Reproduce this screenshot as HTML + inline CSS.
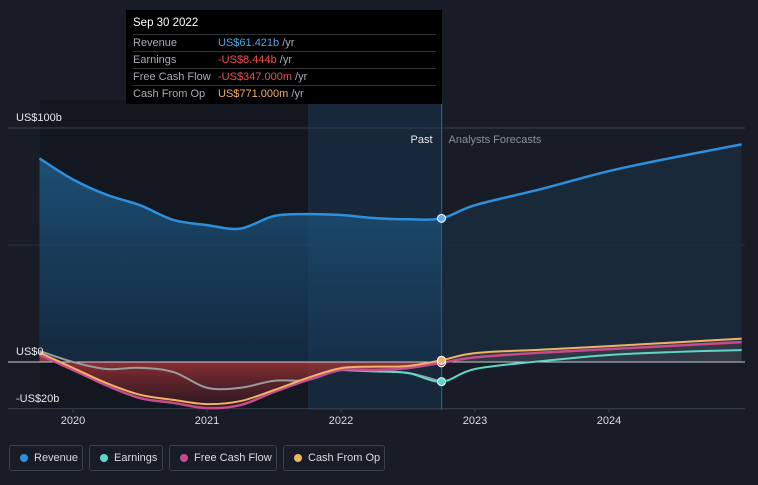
<!DOCTYPE html>
<html><head><meta charset="utf-8"><style>
body{margin:0;background:#151a24;font-family:"Liberation Sans",sans-serif;}
#c{position:relative;width:758px;height:485px;overflow:hidden;background:#171c27;}
.lg{position:absolute;top:445px;height:26px;border:1px solid #3a404c;border-radius:3px;color:#d8dce2;font-size:11px;line-height:24px;padding:0 0 0 24px;box-sizing:border-box;white-space:nowrap}
.lg i{position:absolute;left:10px;top:8px;width:8px;height:8px;border-radius:50%}
</style></head><body>
<div id="c">
<svg id="s" width="758" height="485" style="position:absolute;left:0;top:0">
<defs>
<linearGradient id="rg" x1="0" y1="0" x2="0" y2="1"><stop offset="0" stop-color="#1f5a85" stop-opacity="0.85"/><stop offset="1" stop-color="#153553" stop-opacity="0.6"/></linearGradient>
<linearGradient id="ng" x1="0" y1="0" x2="0" y2="1"><stop offset="0" stop-color="#b5383d" stop-opacity="0.85"/><stop offset="1" stop-color="#5a1c22" stop-opacity="0.4"/></linearGradient>
</defs>
<rect x="40" y="100" width="268" height="310" fill="#121720"/>
<rect x="308" y="100" width="135" height="310" fill="#17283a"/>
<g id="g"></g>
</svg>
<div style="position:absolute;left:126px;top:10px;width:316px;height:94px;background:#000;color:#fff;font-size:11px">
<div style="position:absolute;left:7px;top:7px;font-size:11.5px">Sep 30 2022</div>
<div style="position:absolute;left:7px;top:24px;width:303px;border-top:1px solid #333;line-height:16px;color:#aab">
<div style="border-bottom:1px solid #333">Revenue<span style="position:absolute;left:85px;color:#4aa8e8">US$61.421b <span style="color:#aab">/yr</span></span></div>
<div style="border-bottom:1px solid #333">Earnings<span style="position:absolute;left:85px;color:#f04c52">-US$8.444b <span style="color:#aab">/yr</span></span></div>
<div style="border-bottom:1px solid #333">Free Cash Flow<span style="position:absolute;left:85px;color:#f04c52">-US$347.000m <span style="color:#aab">/yr</span></span></div>
<div>Cash From Op<span style="position:absolute;left:85px;color:#f3b160">US$771.000m <span style="color:#aab">/yr</span></span></div>
</div></div>
<div class="lg" style="left:9px;width:74px"><i style="background:#2e8fdc"></i>Revenue</div>
<div class="lg" style="left:89px;width:74px"><i style="background:#5fd7c8"></i>Earnings</div>
<div class="lg" style="left:169px;width:108px"><i style="background:#c64b8c"></i>Free Cash Flow</div>
<div class="lg" style="left:283px;width:102px"><i style="background:#f0b264"></i>Cash From Op</div>
</div>
<script>
const years=[2019.75,2020,2020.25,2020.5,2020.75,2021,2021.25,2021.5,2021.75,2022,2022.25,2022.5,2022.75,2023,2023.5,2024,2024.5,2024.99];
const revenue=[87,78,71.5,67,60.7,58.5,57,62.4,63.2,62.8,61.5,61,61.4,67,74,81.6,87.6,93];
const earnings=[4.7,0,-3,-2.5,-4.3,-11,-11,-8,-7.7,-3.4,-4,-4.7,-8.4,-3,0.4,3,4.3,5.1];
const fcf=[3,-3.4,-10,-15.4,-17.5,-19.7,-18.4,-12.8,-7.7,-3.4,-3.4,-2.6,-0.35,2,4,5.5,7,8.5];
const cfo=[4,-2.5,-9,-14,-16.2,-18,-16.7,-12,-6.8,-2.6,-2,-1.7,0.77,3.8,5.3,6.8,8.4,10];
const yTicks=[100,0,-20];const yLabels=["US$100b","US$0","-US$20b"];
const xTicks=[2020,2021,2022,2023,2024];
const NOW=2022.75;
const X=t=>73+(t-2020)*134, Y=v=>362-v*2.34;
const g=document.getElementById('g'),NS='http://www.w3.org/2000/svg';
function mk(tag,at,name){const e=document.createElementNS(NS,tag);for(const k in at)e.setAttribute(k,at[k]);


g.appendChild(e);return e;}
function pts(arr,from,to){const p=[];years.forEach((t,i)=>{if(t>=from-1e-9&&t<=to+1e-9)p.push([X(t),Y(arr[i])]);});return p;}
function path(p){let d='M'+p[0][0]+','+p[0][1];for(let i=1;i<p.length;i++){const a=p[i-1],b=p[i],p0=p[i-2]||a,p3=p[i+1]||b;
const c1=[a[0]+(b[0]-p0[0])/6,a[1]+(b[1]-p0[1])/6],c2=[b[0]-(p3[0]-a[0])/6,b[1]-(p3[1]-a[1])/6];
d+=' C'+c1[0]+','+c1[1]+' '+c2[0]+','+c2[1]+' '+b[0]+','+b[1];}return d;}
mk('line',{x1:8,x2:745,y1:Y(100),y2:Y(100),stroke:'#3a414d'},'gridline-top');
mk('line',{x1:8,x2:745,y1:Y(50),y2:Y(50),stroke:'#2a313c'},'gridline-mid');
mk('line',{x1:8,x2:745,y1:Y(-20),y2:Y(-20),stroke:'#3a414d'},'gridline-bottom');
const rp=pts(revenue,0,NOW),rall=pts(revenue,0,3000);
mk('path',{d:path(rp)+' L'+X(NOW)+','+Y(0)+' L'+X(years[0])+','+Y(0)+'Z',fill:'url(#rg)'},'revenue-area-past');
const rf=pts(revenue,NOW,3000);
mk('path',{d:path(rf)+' L'+rf[rf.length-1][0]+','+Y(0)+' L'+X(NOW)+','+Y(0)+'Z',fill:'#1a2d40',opacity:0.8},'revenue-area-forecast');
mk('path',{d:path(pts(fcf,0,NOW))+' L'+X(NOW)+','+Y(0)+' L'+X(years[0])+','+Y(0)+'Z',fill:'url(#ng)'},'negative-area');
const fp=pts(cfo,NOW,3000);
mk('path',{d:path(fp)+' L'+fp[fp.length-1][0]+','+Y(0)+' L'+X(NOW)+','+Y(0)+'Z',fill:'#3a3f48',opacity:0.7},'forecast-area');
mk('line',{x1:8,x2:745,y1:Y(0),y2:Y(0),stroke:'#c8cdd4','stroke-width':1},'zero-line');
mk('line',{x1:X(NOW),x2:X(NOW),y1:10,y2:410,stroke:'#2d5a80','stroke-width':1},'now-line');
mk('path',{d:path(pts(earnings,0,NOW)),fill:'none',stroke:'#9a9b9c','stroke-width':2},'earnings-line-past');
mk('path',{d:path(pts(earnings,2022,3000)),fill:'none',stroke:'#5fd7c8','stroke-width':2},'earnings-line-forecast');
mk('path',{d:path(pts(fcf,0,3000)),fill:'none',stroke:'#c64b8c','stroke-width':2.5},'fcf-line');
mk('path',{d:path(pts(cfo,0,3000)),fill:'none',stroke:'#f0b264','stroke-width':2},'cfo-line');
mk('path',{d:path(rall),fill:'none',stroke:'#2e8fdc','stroke-width':2.5},'revenue-line');
const ni=years.indexOf(NOW);
[[revenue,'#5ab0ee','revenue-dot'],[earnings,'#5fd7c8','earnings-dot'],[fcf,'#c64b8c','fcf-dot'],[cfo,'#f0b264','cfo-dot']].forEach(([a,c,n])=>mk('circle',{cx:X(NOW),cy:Y(a[ni]),r:4,fill:c,stroke:'#fff','stroke-width':1},n));
yTicks.forEach((v,i)=>{const t=mk('text',{x:16,y:Y(v)-7,fill:'#e6e8eb','font-size':11},'y-tick-label');t.textContent=yLabels[i];});
xTicks.forEach(v=>{mk('line',{x1:X(v),x2:X(v),y1:Y(-20),y2:Y(-20)+4,stroke:'#3a414d'},'x-tick');const t=mk('text',{x:X(v),y:424,fill:'#d8dce2','font-size':11,'text-anchor':'middle'},'x-tick-label');t.textContent=v;});
let t=mk('text',{x:X(NOW)-9,y:143,fill:'#e6e8eb','font-size':11,'text-anchor':'end'},'past-label');t.textContent='Past';
t=mk('text',{x:X(NOW)+7,y:143,fill:'#8a919c','font-size':11},'forecast-label');t.textContent='Analysts Forecasts';
</script>
</body></html>
